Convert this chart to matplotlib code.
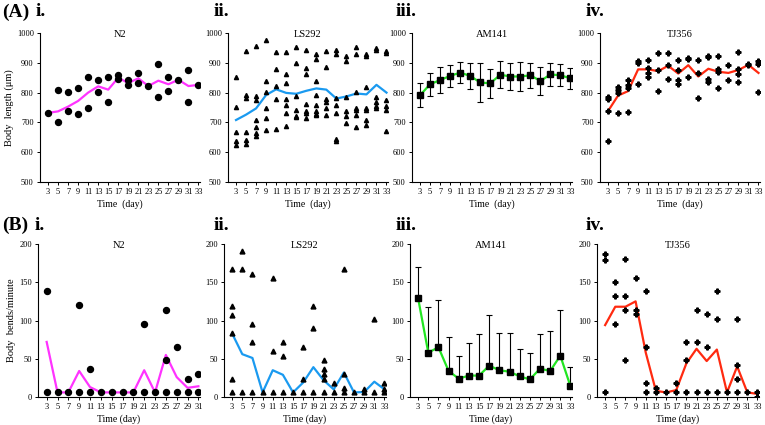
import numpy as np
import matplotlib.pyplot as plt

plt.rcParams['font.family'] = ['Liberation Serif', 'DejaVu Serif']

days = [3, 5, 7, 9, 11, 13, 15, 17, 19, 21, 23, 25, 27, 29, 31, 33]
days_b1 = [3, 5, 7, 9, 11, 13, 15, 17, 19, 21, 23, 25, 27, 29, 31]

# ---- (A) body length ----
n2_len_pts = [[732], [808, 700], [802, 739], [817, 729], [853, 750], [843, 801],
              [853, 768], [860, 844], [841, 826], [867, 831], [822], [897, 786],
              [851, 807], [843], [877, 770], [826]]
n2_len_mean = [732, 737, 753, 772, 800, 821, 810, 850, 832, 848, 822, 840, 828, 843, 822, 826]

ls_len_pts = [[853, 752, 668, 638, 623],
              [938, 793, 782, 668, 640, 626],
              [956, 787, 775, 707, 684, 666, 654],
              [977, 838, 803, 749, 714, 676],
              [937, 878, 821, 777, 678],
              [936, 861, 832, 778, 760, 730, 687],
              [953, 899, 787, 743, 723, 717],
              [944, 884, 862, 763, 738, 730, 714],
              [931, 913, 838, 792, 759, 738, 729, 724],
              [941, 885, 780, 769, 749, 724],
              [943, 931, 783, 759, 732, 644, 639],
              [924, 907, 785, 738, 721, 698],
              [954, 928, 803, 749, 740, 726, 685],
              [930, 924, 818, 749, 740, 709, 692],
              [949, 943, 786, 770, 754, 749],
              [939, 933, 776, 754, 740, 671]]
ls_len_mean = [708, 726, 747, 792, 811, 799, 796, 806, 814, 810, 780, 787, 797, 794, 826, 800]

am_len_mean = [791, 828, 842, 856, 867, 856, 834, 831, 860, 854, 854, 858, 839, 861, 858, 848]
am_len_sd = [40, 38, 44, 37, 35, 43, 65, 48, 46, 44, 48, 42, 48, 38, 37, 36]

tj_len_pts = [[786, 778, 738, 639], [818, 808, 800, 733], [842, 825, 816, 735],
              [907, 898, 828], [910, 881, 867, 851], [934, 876, 806],
              [933, 894, 845], [909, 876, 842, 828], [917, 912, 853],
              [911, 866, 783], [923, 920, 845, 837], [923, 879, 870, 817],
              [892, 842], [937, 879, 862, 835], [896, 891], [906, 896, 802]]
tj_len_mean = [738, 790, 805, 878, 878, 872, 890, 864, 892, 854, 880, 870, 866, 876, 893, 866]

# ---- (B) body bends ----
n2_bend_pts = [[138, 6], [6], [6], [120, 6], [36, 6], [6], [6], [6], [6],
               [96, 6], [6], [114, 48, 6], [66, 6], [24, 6], [30, 6]]
n2_bend_mean = [72, 6, 6, 34, 13, 6, 6, 6, 6, 35, 6, 55, 26, 12, 14]

ls_bend_pts = [[167, 119, 107, 84, 24, 6], [191, 167, 6], [161, 95, 72, 6], [6],
               [155, 60, 6], [72, 54, 6], [6], [66, 24, 6], [119, 90, 6],
               [48, 36, 30, 23, 6], [18, 6], [167, 30, 12, 6], [6], [11, 6],
               [102, 6], [18, 11, 6]]
ls_bend_mean = [83, 56, 51, 6, 35, 29, 6, 19, 39, 22, 10, 32, 6, 6.5, 20, 10]

am_bend_mean = [129, 58, 65, 34, 24, 28, 28, 41, 35, 33, 27, 23, 37, 34, 54, 14]
am_bend_sd = [41, 60, 62, 44, 30, 42, 55, 66, 49, 51, 36, 35, 46, 52, 60, 25]

tj_bend_pts = [[187, 179, 6], [150, 132, 96], [180, 132, 114, 48], [156, 114, 108],
               [139, 66, 18, 6], [12, 6], [6], [18, 6], [72, 48, 6], [114, 72, 6],
               [108, 66, 6], [138, 102, 6], [6], [102, 42, 24, 6], [6], [6, 0]]
tj_bend_mean = [94, 118, 118, 125, 58, 8, 6, 9, 44, 63, 47, 62, 6, 40, 6, 4]

MAGENTA = '#ff33ff'
BLUE = '#1a9af0'
GREEN = '#22e622'
RED = '#ff2a10'


def scatter_days(ax, x, pts, marker, ms):
    xs = [d for d, vals in zip(x, pts) for _ in vals]
    ys = [v for vals in pts for v in vals]
    ax.plot(xs, ys, ls='none', marker=marker, color='black', ms=ms, zorder=3)


def style(ax, xticks, ylim, yticks, title, xlabel):
    for s in ['top', 'right']:
        ax.spines[s].set_visible(False)
    for s in ['left', 'bottom']:
        ax.spines[s].set_linewidth(0.8)
    ax.set_xlim(1.4, xticks[-1] + 0.3)
    ax.set_xticks(xticks)
    ax.set_ylim(ylim)
    ax.set_yticks(yticks)
    ax.tick_params(labelsize=6, length=2.5, width=0.7, pad=2)
    ax.text(0.5, 0.99, title, transform=ax.transAxes, ha='center', va='center', fontsize=7.5)
    ax.set_xlabel(xlabel, fontsize=7, labelpad=2.5)


fig = plt.figure(figsize=(7.65, 4.25), dpi=100)
W, H = 765, 425


def add_ax(left, top, width, height):
    return fig.add_axes([left / W, 1 - (top + height) / H, width / W, height / H])


a_lefts = [40, 228, 412, 600]
b_lefts = [38, 224, 410, 597]
axA = [add_ax(l, 33, 160, 149) for l in a_lefts]
axB = [add_ax(l, 244, 162, 153) for l in b_lefts]

# Row A
ya = (500, 1000)
yta = [500, 600, 700, 800, 900, 1000]
ax = axA[0]
ax.plot(days, n2_len_mean, color=MAGENTA, lw=1.6, zorder=2)
scatter_days(ax, days, n2_len_pts, 'o', 4.3)
style(ax, days, ya, yta, 'N2', 'Time  (day)')
ax.set_ylabel('Body  length (μm)', fontsize=7.5, labelpad=2)

ax = axA[1]
ax.plot(days, ls_len_mean, color=BLUE, lw=1.6, zorder=2)
scatter_days(ax, days, ls_len_pts, '^', 3)
style(ax, days, ya, yta, 'LS292', 'Time  (day)')

ax = axA[2]
ax.errorbar(days, am_len_mean, yerr=am_len_sd, color=GREEN, lw=1.6, ecolor='black',
            elinewidth=0.8, capsize=2.5, capthick=0.8, zorder=2)
ax.plot(days, am_len_mean, ls='none', marker='s', color='black', ms=4, zorder=3)
style(ax, days, ya, yta, 'AM141', 'Time  (day)')

ax = axA[3]
ax.plot(days, tj_len_mean, color=RED, lw=1.6, zorder=2)
scatter_days(ax, days, tj_len_pts, 'P', 3.5)
style(ax, days, ya, yta, 'TJ356', 'Time  (day)')

# Row B
yb = (0, 200)
ytb = [0, 50, 100, 150, 200]
ax = axB[0]
ax.plot(days_b1, n2_bend_mean, color=MAGENTA, lw=1.6, zorder=2)
scatter_days(ax, days_b1, n2_bend_pts, 'o', 4.3)
style(ax, days_b1, yb, ytb, 'N2', 'Time (day)')
ax.set_ylabel('Body  bends/minute', fontsize=7.5, labelpad=2)

ax = axB[1]
ax.plot(days, ls_bend_mean, color=BLUE, lw=1.6, zorder=2)
scatter_days(ax, days, ls_bend_pts, '^', 3.5)
style(ax, days, yb, ytb, 'LS292', 'Time (day)')

ax = axB[2]
ax.errorbar(days, am_bend_mean, yerr=[np.zeros(len(days)), am_bend_sd], color=GREEN, lw=1.6,
            ecolor='black', elinewidth=0.8, capsize=2.5, capthick=0.8, zorder=2)
ax.plot(days, am_bend_mean, ls='none', marker='s', color='black', ms=4, zorder=3)
style(ax, days, yb, ytb, 'AM141', 'Time (day)')

ax = axB[3]
ax.plot(days, tj_bend_mean, color=RED, lw=1.6, zorder=2)
scatter_days(ax, days, tj_bend_pts, 'P', 3.5)
style(ax, days, yb, ytb, 'TJ356', 'Time (day)')

# panel labels
for txt, x, y in [('(A)', 2, 12), ('i.', 36, 12), ('ii.', 214, 12), ('iii.', 396, 12), ('iv.', 586, 12),
                  ('(B)', 2, 225), ('i.', 35, 225), ('ii.', 214, 225), ('iii.', 396, 225), ('iv.', 586, 225)]:
    fig.text(x / W, 1 - y / H, txt, fontsize=14, fontweight='bold', ha='left', va='center')

fig.savefig('out.png', dpi=100)
